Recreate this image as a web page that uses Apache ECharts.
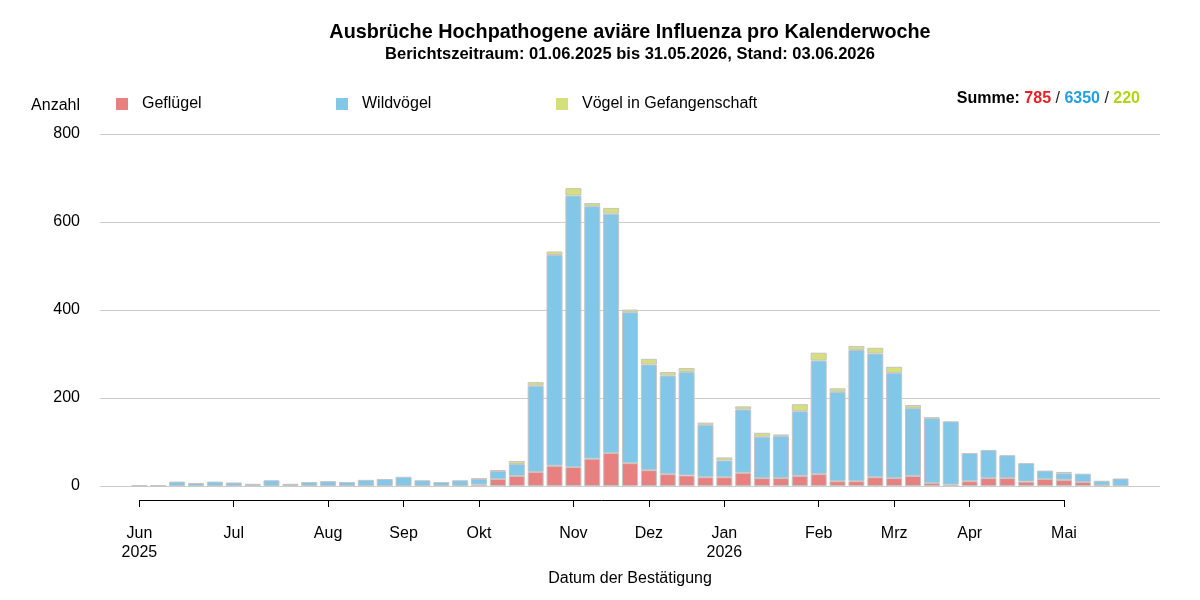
<!DOCTYPE html>
<html>
<head>
<meta charset="utf-8">
<title>HPAI pro Kalenderwoche</title>
<script src="https://cdn.jsdelivr.net/npm/echarts@6/dist/echarts.min.js"></script>
<style>
  html, body { margin: 0; padding: 0; background: #fff; }
  #chart { width: 1200px; height: 600px; }
</style>
</head>
<body>
<div id="chart"></div>
<script>
// Kalenderwochen KW22/2025 .. KW22/2026
const weeks = [];
for (let w = 22; w <= 52; w++) weeks.push('KW' + w + '/2025');
for (let w = 1; w <= 22; w++) weeks.push('KW' + w + '/2026');

// Monatsmarken (Index der Woche) und Beschriftung
const monthWeeks = [0, 5, 10, 14, 18, 23, 27, 31, 36, 40, 44, 49];
const monthLabels = ['Jun\n2025', 'Jul', 'Aug', 'Sep', 'Okt', 'Nov', 'Dez', 'Jan\n2026', 'Feb', 'Mrz', 'Apr', 'Mai'];

// Ausbrüche pro Woche
const poultry = [0, 0, 0, 0, 0, 0, 0, 0, 0, 0, 0, 0, 0, 0, 0, 0, 0, 0, 3, 16,
  23, 32, 46, 43, 62, 75, 52, 36, 27, 24, 20, 20, 30, 18, 18, 23, 27, 11, 11, 20,
  18, 23, 7, 3, 11, 18, 18, 10, 16, 14, 9, 1, 0];
const wildBirds = [1, 1, 10, 7, 10, 8, 5, 13, 5, 9, 11, 9, 14, 16, 21, 13, 9, 13, 13, 18,
  27, 196, 479, 617, 574, 544, 343, 240, 224, 235, 119, 38, 144, 94, 96, 147, 258, 203, 298, 281,
  239, 154, 147, 144, 64, 64, 52, 42, 19, 15, 19, 11, 17];
const captive = [0, 0, 0, 0, 0, 0, 0, 0, 0, 0, 0, 0, 0, 0, 0, 0, 0, 0, 1, 2,
  7, 8, 8, 17, 7, 13, 6, 13, 8, 9, 5, 7, 7, 9, 3, 16, 18, 8, 9, 13,
  14, 7, 2, 0, 0, 0, 0, 0, 0, 3, 0, 0, 0];

const yTicks = [0, 200, 400, 600, 800];

const font = "'Liberation Sans', Arial, sans-serif";
const sum = arr => arr.reduce((a, b) => a + b, 0);
const noZero = arr => arr.map(v => (v === 0 ? '-' : v));

const chart = echarts.init(document.getElementById('chart'));

const barBase = {
  type: 'bar',
  xAxisIndex: 1,
  yAxisIndex: 1,
  stack: 'anzahl',
  barWidth: 16
};
const border = { borderColor: '#c4c4c4', borderWidth: 1 };

const legendBase = {
  top: 96,
  padding: 0,
  icon: 'rect',
  itemWidth: 12,
  itemHeight: 12,
  itemStyle: { borderWidth: 0 },
  textStyle: { fontSize: 16, color: '#000', fontFamily: font, padding: [0, 0, 0, 9] }
};

const option = {
  animation: false,
  textStyle: { fontFamily: font },
  grid: [
    { left: 100, right: 40, top: 134, bottom: 114 },
    { left: 130, width: 1000, top: 134, bottom: 114 },
    { left: 139.4, width: 924.6, top: 499, height: 1 }
  ],
  legend: [
    Object.assign({ left: 116, data: ['Geflügel'] }, legendBase),
    Object.assign({ left: 336, data: ['Wildvögel'] }, legendBase),
    Object.assign({ left: 556, data: ['Vögel in Gefangenschaft'] }, legendBase)
  ],
  xAxis: [
    { gridIndex: 0, type: 'value', min: 0, max: 1, show: false },
    { gridIndex: 1, type: 'category', data: weeks, show: false },
    {
      gridIndex: 2,
      type: 'category',
      data: weeks.slice(0, monthWeeks[monthWeeks.length - 1] + 1),
      boundaryGap: false,
      axisLine: { lineStyle: { color: '#000', width: 1 } },
      axisTick: {
        length: 7,
        interval: i => monthWeeks.includes(i),
        lineStyle: { color: '#000' }
      },
      axisLabel: {
        interval: i => monthWeeks.includes(i),
        formatter: (v, i) => monthLabels[monthWeeks.indexOf(i)],
        fontSize: 16,
        lineHeight: 19,
        color: '#000',
        margin: 24
      }
    }
  ],
  yAxis: [
    {
      gridIndex: 0,
      type: 'value',
      min: yTicks[0],
      max: yTicks[yTicks.length - 1],
      interval: 200,
      axisLine: { show: false },
      axisTick: { show: false },
      axisLabel: { fontSize: 16, color: '#000', margin: 20, padding: [3, 0, 0, 0] },
      splitLine: { lineStyle: { color: '#cccccc', width: 1 } }
    },
    { gridIndex: 1, type: 'value', min: 0, max: 800, show: false },
    { gridIndex: 2, type: 'value', show: false }
  ],
  series: [
    Object.assign({}, barBase, {
      name: 'Geflügel',
      data: noZero(poultry),
      itemStyle: Object.assign({ color: '#e88080' }, border)
    }),
    Object.assign({}, barBase, {
      name: 'Wildvögel',
      data: noZero(wildBirds),
      itemStyle: Object.assign({ color: '#82c6e8' }, border)
    }),
    Object.assign({}, barBase, {
      name: 'Vögel in Gefangenschaft',
      data: noZero(captive),
      itemStyle: Object.assign({ color: '#d5e07c' }, border)
    })
  ],
  graphic: [
    {
      type: 'text', x: 630, y: 33,
      style: {
        text: 'Ausbrüche Hochpathogene aviäre Influenza pro Kalenderwoche',
        font: 'bold 19.8px ' + font, fill: '#000', align: 'center', verticalAlign: 'middle'
      }
    },
    {
      type: 'text', x: 630, y: 54,
      style: {
        text: 'Berichtszeitraum: 01.06.2025 bis 31.05.2026, Stand: 03.06.2026',
        font: 'bold 16.5px ' + font, fill: '#000', align: 'center', verticalAlign: 'middle'
      }
    },
    {
      type: 'text', x: 80, y: 106,
      style: { text: 'Anzahl', font: '16px ' + font, fill: '#000', align: 'right', verticalAlign: 'middle' }
    },
    {
      type: 'text', x: 630, y: 579,
      style: { text: 'Datum der Bestätigung', font: '16px ' + font, fill: '#000', align: 'center', verticalAlign: 'middle' }
    },
    {
      type: 'text', x: 1140, y: 99,
      style: {
        text: '{k|Summe:} {r|' + sum(poultry) + '} {s|/} {b|' + sum(wildBirds) + '} {s|/} {g|' + sum(captive) + '}',
        font: 'bold 16px ' + font,
        align: 'right',
        verticalAlign: 'middle',
        rich: {
          k: { fill: '#000', font: 'bold 16px ' + font },
          r: { fill: '#ee1d23', font: 'bold 16px ' + font },
          s: { fill: '#222', font: '16px ' + font },
          b: { fill: '#1e9fe6', font: 'bold 16px ' + font },
          g: { fill: '#b5d313', font: 'bold 16px ' + font }
        }
      }
    }
  ]
};

chart.setOption(option);
window.addEventListener('resize', () => chart.resize());
</script>
</body>
</html>
